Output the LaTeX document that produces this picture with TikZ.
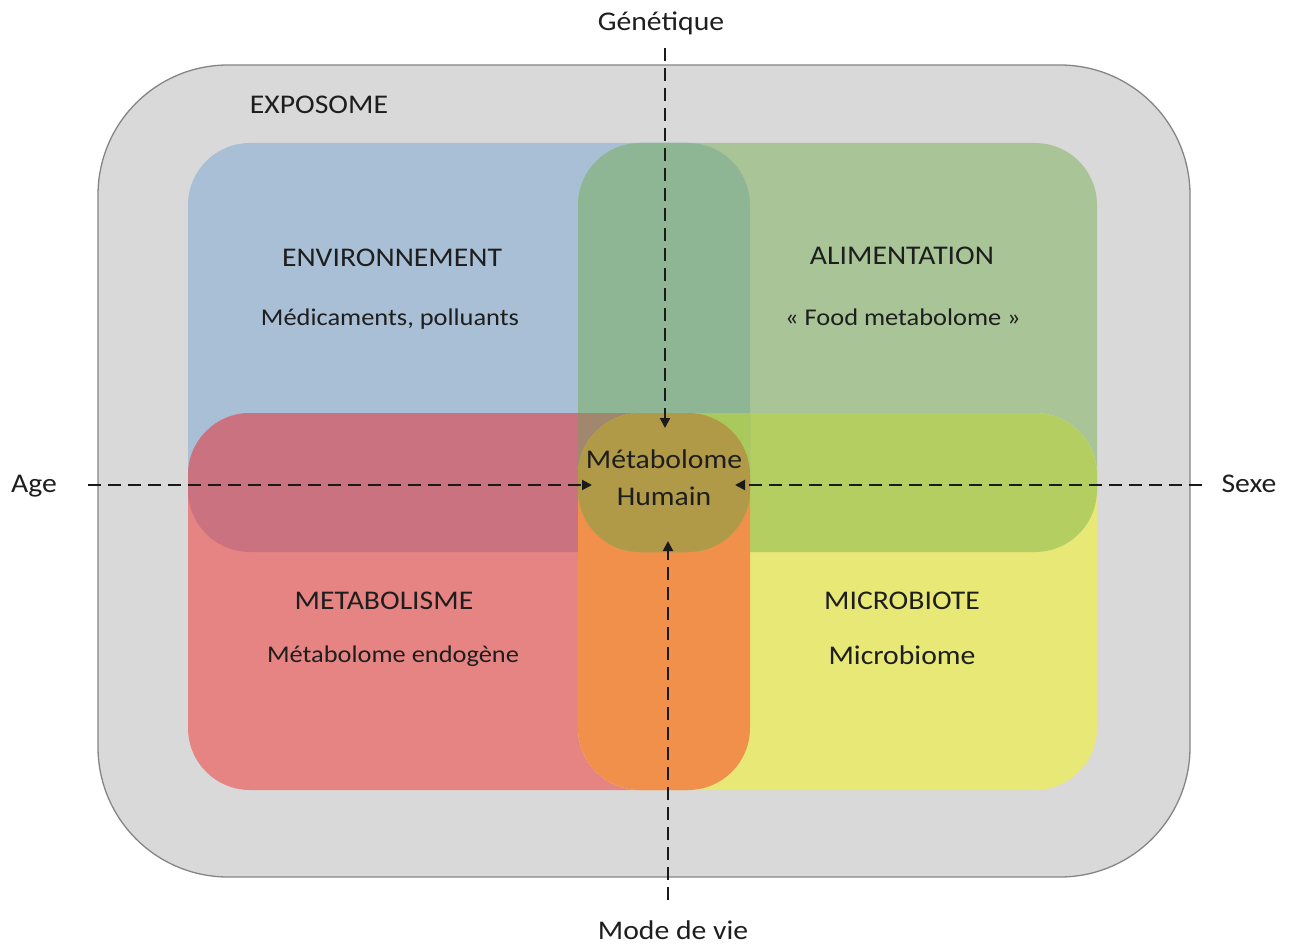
\documentclass[tikz,border=0pt]{standalone}
\usepackage{fontspec}
\setmainfont[FakeStretch=1.1]{Carlito}
\usetikzlibrary{arrows.meta}
\definecolor{bgGrey}{HTML}{D9D9D9}
\definecolor{edgeGrey}{HTML}{858585}
\definecolor{cBlue}{HTML}{A9BFD6}
\definecolor{cGreen}{HTML}{A9C597}
\definecolor{cRed}{HTML}{E68483}
\definecolor{cYellow}{HTML}{E8E877}
\definecolor{cStripTop}{HTML}{8FB694}
\definecolor{cStripBot}{HTML}{F0904A}
\definecolor{cBandL}{HTML}{CB7280}
\definecolor{cBandR}{HTML}{B5CE62}
\definecolor{cCentre}{HTML}{B09A48}
\definecolor{cTL}{HTML}{A2876F}
\definecolor{cTR}{HTML}{A9C95C}
\definecolor{txt}{HTML}{1E1E1E}
\definecolor{dashcol}{HTML}{1A1A1A}
\tikzset{
  quad/.style={rounded corners=62pt},
  lbl/.style={text=txt, font=\fontsize{27}{37}\selectfont, inner sep=0pt, anchor=base},
  sublbl/.style={lbl, font=\fontsize{24}{30}\selectfont},
  dashline/.style={draw=dashcol, line width=2pt, dash pattern=on 13pt off 7pt},
  arrowline/.style={dashline, -{Triangle[length=10pt,width=10pt]}}
}
\begin{document}
\begin{tikzpicture}[x=1pt,y=-1pt]
\useasboundingbox (0,0) rectangle (1293,944);
% exposome frame
\draw[fill=bgGrey, draw=edgeGrey, line width=1.3pt, rounded corners=130pt] (98,65) rectangle (1190,877);
% quadrants
\fill[cBlue, quad] (188,143) rectangle (750,552);
\fill[cGreen, quad] (578,143) rectangle (1097,552);
\fill[cRed, quad] (188,413) rectangle (750,790);
\fill[cYellow, quad] (578,413) rectangle (1097,790);
% band overlaps
\begin{scope}
  \clip[quad] (188,143) rectangle (750,552);
  \fill[cBandL, quad] (188,413) rectangle (750,790);
\end{scope}
\begin{scope}
  \clip[quad] (578,143) rectangle (1097,552);
  \fill[cBandR, quad] (578,413) rectangle (1097,790);
\end{scope}
% strip overlaps
\begin{scope}
  \clip[quad] (188,143) rectangle (750,552);
  \fill[cStripTop, quad] (578,143) rectangle (1097,552);
\end{scope}
\begin{scope}
  \clip[quad] (188,413) rectangle (750,790);
  \fill[cStripBot, quad] (578,413) rectangle (1097,790);
\end{scope}
% triple overlaps
\begin{scope}
  \clip[quad] (188,143) rectangle (750,552);
  \clip[quad] (578,143) rectangle (1097,552);
  \fill[cTL, quad] (188,413) rectangle (750,790);
\end{scope}
\begin{scope}
  \clip[quad] (188,143) rectangle (750,552);
  \clip[quad] (578,143) rectangle (1097,552);
  \fill[cTR, quad] (578,413) rectangle (1097,790);
\end{scope}
% centre (all four)
\begin{scope}
  \clip[quad] (188,143) rectangle (750,552);
  \clip[quad] (578,143) rectangle (1097,552);
  \clip[quad] (188,413) rectangle (750,790);
  \fill[cCentre, quad] (578,413) rectangle (1097,790);
\end{scope}
% labels
\node[lbl] (expo) at (319,114) {EXPOSOME};
\node[lbl] (env) at (392,266) {ENVIRONNEMENT};
\node[sublbl] (envsub) at (390,325) {Médicaments, polluants};
\node[lbl] (alim) at (902,264) {ALIMENTATION};
\node[sublbl] (alimsub) at (903,325) {« Food metabolome »};
\node[lbl] (meta) at (384,609) {METABOLISME};
\node[sublbl] (metasub) at (393,662) {Métabolome endogène};
\node[lbl] (micro) at (902,609) {MICROBIOTE};
\node[lbl] (microsub) at (902,664) {Microbiome};
\node[lbl, align=center] (centre) at (664,505) {Métabolome\\Humain};
\node[lbl] (gen) at (661,31) {Génétique};
\node[lbl] (mode) at (673,939) {Mode de vie};
\node[lbl] (age) at (34,492) {Age};
\node[lbl] (sexe) at (1249,492) {Sexe};
% connector ends
\coordinate (genEnd) at (665,48);
\coordinate (tipN) at (665,428);
\coordinate (modeEnd) at (668,900);
\coordinate (tipS) at (668,541);
\coordinate (ageEnd) at (88,485);
\coordinate (tipW) at (592,485);
\coordinate (sexeEnd) at (1202,485);
\coordinate (tipE) at (735,485);
\draw[arrowline] (genEnd) -- (tipN);
\draw[arrowline] (modeEnd) -- (tipS);
\draw[arrowline] (ageEnd) -- (tipW);
\draw[arrowline] (sexeEnd) -- (tipE);
\end{tikzpicture}
\end{document}
